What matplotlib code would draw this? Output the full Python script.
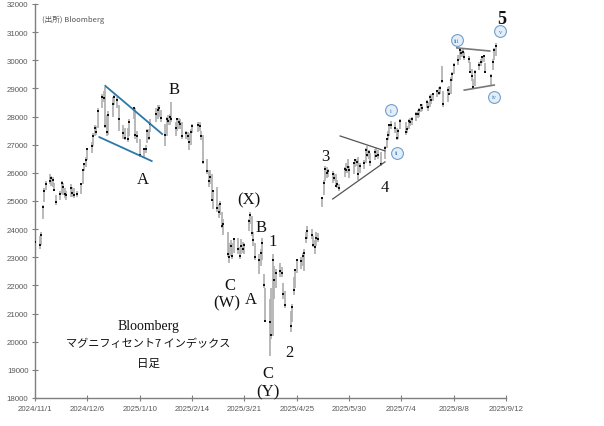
import matplotlib
matplotlib.use("Agg")
import matplotlib.pyplot as plt
import pandas as pd

# trading days shown (US market holidays removed)
holidays = pd.to_datetime([
    "2024-11-28", "2024-12-25", "2025-01-01", "2025-01-09", "2025-01-20",
    "2025-02-17", "2025-04-18", "2025-05-26", "2025-06-19", "2025-07-04",
    "2025-09-01",
])
dates = pd.bdate_range("2024-11-01", "2025-09-05")
dates = dates[~dates.isin(holidays)]

# daily high / low / close, one row per month (Nov 2024 .. Sep 2025)
high = [
    23850, 23750, 23900, 24850, 25450, 25700, 25950, 25900, 25850, 25650, 25200, 25350, 25700, 25650, 25450, 25350, 25600, 25500, 25450, 25350,
    25650, 26150, 26350, 26550, 26900, 27100, 27400, 27700, 27650, 28300, 28800, 28900, 29050, 28050, 28200, 28700, 28750, 28700, 28400, 27700, 27600,
    27600, 27900, 28350, 28300, 27500, 27200, 26900, 27000, 27550, 27550, 27900, 28300, 28400, 28400, 28250, 27750, 28000, 28050, 28100, 28500,
    27800, 27950, 27950, 27900, 27800, 27500, 27450, 27400, 27550, 27750, 27800, 27800, 27500, 27350, 26500, 26100, 26100, 25950, 25400,
    25500, 24900, 25000, 24600, 24350, 23900, 23500, 23600, 23500, 23700, 23700, 23350, 23650, 23550, 23500, 24350, 24600, 24450, 23900, 23500, 23100,
    23300, 23700, 22400, 21900, 21500, 21900, 23100, 22700, 22600, 22800, 22650, 22100, 21800, 21100, 21350, 22300, 22600, 22950, 23000, 23150, 23300,
    23900, 24100, 24000, 23750, 23600, 23900, 23850, 25150, 25750, 26250, 26200, 26150, 26050, 26000, 25950, 25750, 25600, 26200, 26350, 26500, 26250,
    26400, 26500, 26500, 26550, 26350, 26450, 26900, 26950, 26800, 26700, 26850, 26900, 26800, 26750, 26950, 27250, 27500, 27750, 27850, 27800,
    27600, 27550, 27900, 27800, 27650, 27900, 27950, 28000, 28150, 28250, 28300, 28450, 28450, 28600, 28500, 28750, 28800, 28850, 28950, 29050, 29100, 29800,
    28900, 29050, 29100, 29400, 29600, 29900, 30200, 30400, 30350, 30400, 30300, 30150, 29950, 29700, 29350, 29650, 29950, 30050, 30150, 30200, 29900,
    29500, 30050, 30450, 30600,
]
low = [
    23350, 23300, 23450, 24350, 24950, 25400, 25600, 25550, 25500, 25350, 24850, 25050, 25250, 25200, 25100, 25050, 25150, 25150, 25100, 25150,
    25250, 25600, 26050, 26200, 26450, 26700, 26950, 27300, 27350, 27600, 28300, 28500, 27600, 27300, 27350, 28000, 28400, 28300, 27500, 27200, 27150,
    27100, 27300, 27900, 27200, 27050, 26550, 26550, 26700, 27050, 27150, 27450, 27800, 27900, 28000, 27800, 26950, 27300, 27700, 27700, 27800,
    27300, 27500, 27550, 27550, 27200, 27200, 27150, 26800, 27000, 27400, 27450, 27500, 27150, 26300, 25950, 25500, 25600, 25000, 24700,
    24600, 24400, 24500, 24050, 23800, 23000, 22800, 23050, 22950, 23150, 23100, 22950, 23100, 23150, 23100, 23950, 24200, 23750, 23400, 22900, 22400,
    22700, 22900, 21900, 20700, 19480, 20100, 20200, 21500, 21900, 22300, 22300, 21500, 21200, 20350, 20700, 21650, 21900, 22450, 22600, 22700, 22500,
    23500, 23650, 23650, 23350, 23100, 23400, 23550, 24800, 25200, 25700, 25800, 25850, 25650, 25700, 25500, 25450, 25350, 25850, 26000, 26000, 25800,
    25950, 26200, 26250, 25750, 26000, 26150, 26350, 26550, 26500, 26250, 26450, 26550, 26500, 26250, 26500, 26900, 27150, 27300, 27550, 27400,
    27150, 27200, 27550, 27350, 27400, 27550, 27650, 27700, 27850, 27950, 28000, 28150, 28200, 28300, 28200, 28350, 28450, 28550, 28700, 28750, 28800, 29200,
    28350, 28500, 28750, 28800, 29250, 29500, 29850, 30000, 30100, 30100, 30000, 29900, 29550, 29250, 29000, 29100, 29650, 29800, 29900, 29950, 29550,
    29100, 29650, 30000, 30150,
]
close = [
    23550, 23450, 23800, 24800, 25350, 25600, 25700, 25800, 25750, 25400, 24950, 25250, 25650, 25500, 25250, 25200, 25450, 25300, 25200, 25250,
    25600, 26100, 26300, 26450, 26850, 26950, 27300, 27600, 27450, 28200, 28700, 28650, 27650, 27450, 28050, 28450, 28700, 28600, 27900, 27400, 27250,
    27200, 27800, 28300, 27350, 27300, 26650, 26850, 26850, 27500, 27250, 27750, 28100, 28250, 28300, 27950, 27350, 27900, 27850, 28000, 27900,
    27600, 27900, 27800, 27750, 27300, 27400, 27300, 27100, 27450, 27650, 27700, 27650, 27300, 26400, 26050, 25700, 25850, 25050, 25350,
    24750, 24600, 24900, 24100, 24200, 23100, 23000, 23400, 23050, 23650, 23300, 23050, 23400, 23300, 23450, 24300, 24500, 23850, 23600, 23000, 22900,
    23150, 23500, 22000, 20750, 20700, 20250, 22900, 22200, 22450, 22500, 22450, 21700, 21300, 20550, 21250, 21850, 22550, 22900, 22850, 23050, 23150,
    23700, 23950, 23800, 23450, 23350, 23700, 23650, 25100, 25650, 26150, 26000, 26050, 25950, 25800, 25550, 25600, 25450, 26150, 26100, 26200, 26100,
    26350, 26450, 26400, 25950, 26250, 26350, 26800, 26650, 26750, 26400, 26750, 26600, 26650, 26300, 26900, 27200, 27350, 27700, 27700, 27600,
    27250, 27500, 27850, 27450, 27550, 27850, 27800, 27900, 28100, 28100, 28250, 28400, 28300, 28500, 28350, 28700, 28600, 28800, 28900, 28850, 29000, 29250,
    28450, 28950, 28800, 29300, 29500, 29850, 30000, 30350, 30250, 30300, 30100, 30050, 29600, 29450, 29050, 29600, 29850, 29950, 30100, 30150, 29600,
    29450, 29950, 30350, 30500,
]

# trend lines (start/end date, start/end value)
wedge_top_dates = ["2024-12-18", "2025-01-25"]
wedge_top_vals = [29090, 27380]
wedge_bot_dates = ["2024-12-14", "2025-01-18"]
wedge_bot_vals = [27270, 26420]
tri4_top_dates = ["2025-05-24", "2025-06-23"]
tri4_top_vals = [27310, 26780]
tri4_bot_dates = ["2025-05-19", "2025-06-23"]
tri4_bot_vals = [25070, 26390]
triiv_top_dates = ["2025-08-10", "2025-09-01"]
triiv_top_vals = [30440, 30330]
triiv_bot_dates = ["2025-08-15", "2025-09-04"]
triiv_bot_vals = [28940, 29120]

tick_dates = pd.date_range("2024-11-01", "2025-09-12", freq="35D")
y_ticks = list(range(18000, 32001, 1000))

fig = plt.figure(figsize=(6.04, 4.27), dpi=100)
ax = fig.add_axes([0.058, 0.0656, 0.780, 0.9227])

# high-low bars with a small close mark
ax.vlines(dates, low, high, color="#b0b0b0", lw=1.25, zorder=2)
ax.plot(dates, close, ls="none", marker="s", ms=1.7, mew=0, color="#111111", zorder=3)

def seg(d, v, **kw):
    ax.plot(pd.to_datetime(d), v, **kw)

blue = dict(color="#2b78a8", lw=1.3, zorder=4)
seg(wedge_top_dates, wedge_top_vals, **blue)
seg(wedge_bot_dates, wedge_bot_vals, **blue)
gray = dict(color="#555555", lw=0.9, zorder=4)
seg(tri4_top_dates, tri4_top_vals, **gray)
seg(tri4_bot_dates, tri4_bot_vals, **gray)
seg(triiv_top_dates, triiv_top_vals, color="#777777", lw=1.2, zorder=4)
seg(triiv_bot_dates, triiv_bot_vals, color="#777777", lw=1.2, zorder=4)

serif = "Liberation Serif"
wave_labels = [
    ("A", "2025-01-12", 25780), ("B", "2025-02-02", 28980),
    ("(X)", "2025-03-24", 25070), ("B", "2025-04-01", 24080),
    ("1", "2025-04-09", 23580), ("C", "2025-03-11", 22020),
    ("(W)", "2025-03-09", 21380), ("A", "2025-03-25", 21520),
    ("2", "2025-04-20", 19640), ("C", "2025-04-06", 18890),
    ("(Y)", "2025-04-06", 18250), ("3", "2025-05-14", 26600),
    ("4", "2025-06-23", 25500), ("5", "2025-09-09", 31500),
]
for txt, d, v in wave_labels:
    ax.text(pd.Timestamp(d), v, txt, family=serif, fontsize=12 if txt != "5" else 13,
            fontweight="bold" if txt == "5" else "normal",
            ha="center", va="center", color="#111111", zorder=5)

roman = [("i", "2025-06-27", 28230), ("ii", "2025-07-01", 26710),
         ("iii", "2025-08-10", 30720), ("iv", "2025-09-04", 28700),
         ("v", "2025-09-08", 31040)]
for txt, d, v in roman:
    ax.plot(pd.Timestamp(d), v, "o", ms=8.5, mfc="#e4eef8", mec="#6f9fd0", mew=0.8, zorder=5)
    ax.text(pd.Timestamp(d), v, txt, family=serif, fontsize=4.5, color="#3a78b8",
            ha="center", va="center", zorder=6)

ax.text(0.015, 0.962, "(出所) Bloomberg", transform=ax.transAxes, fontsize=5.5,
        color="#555555", family=["Noto Sans CJK JP", "DejaVu Sans"], ha="left", va="center")
ax.text(0.24, 0.183, "Bloomberg", transform=ax.transAxes, fontsize=10,
        family=serif, ha="center", va="center", color="#111111")
ax.text(0.24, 0.140, "マグニフィセント7 インデックス", transform=ax.transAxes, fontsize=8,
        family=["Noto Sans CJK JP", "DejaVu Sans"], ha="center", va="center", color="#111111")
ax.text(0.24, 0.091, "日足", transform=ax.transAxes, fontsize=8.3,
        family=["Noto Sans CJK JP", "DejaVu Sans"], ha="center", va="center", color="#111111")

ax.set_xlim(pd.Timestamp("2024-11-01"), pd.Timestamp("2025-09-12"))
ax.set_ylim(18000, 32000)
ax.set_xticks(tick_dates)
ax.set_xticklabels([f"{d.year}/{d.month}/{d.day}" for d in tick_dates])
ax.set_yticks(y_ticks)
ax.set_yticklabels([str(t) for t in y_ticks])

for s in ["top", "right"]:
    ax.spines[s].set_visible(False)
for s in ["left", "bottom"]:
    ax.spines[s].set_color("#7f7f7f")
    ax.spines[s].set_linewidth(1.0)
ax.tick_params(direction="inout", length=4.5, width=0.8, color="#7f7f7f",
               labelsize=5.7, labelcolor="#595959", pad=2.5)
for lab in ax.get_xticklabels() + ax.get_yticklabels():
    lab.set_family("Liberation Sans")

fig.savefig("out.png", dpi=100)
